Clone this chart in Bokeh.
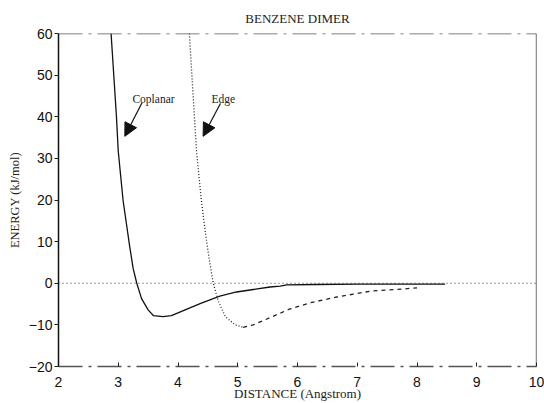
from bokeh.plotting import figure
from bokeh.models import Span, Label, Arrow, NormalHead, FixedTicker
from bokeh.embed import file_html
from bokeh.resources import INLINE

# Coplanar dimer energy curve (distance in Angstrom, energy in kJ/mol)
coplanar_x = [2.88, 2.97, 3.00, 3.08, 3.14, 3.19, 3.25, 3.31, 3.39, 3.50, 3.59, 3.75,
              3.89, 4.15, 4.37, 4.70, 4.98, 5.26, 5.54, 5.71, 5.82, 6.32, 7.00, 8.00, 8.47]
coplanar_y = [60.0, 40.0, 31.7, 20.0, 14.0, 9.0, 3.5, 0.0, -3.7, -6.4, -7.8, -8.0,
              -7.8, -6.2, -4.9, -3.1, -2.1, -1.5, -0.9, -0.7, -0.4, -0.3, -0.2, -0.2, -0.2]

# Edge (T-shaped) dimer energy curve
edge_x = [4.19, 4.31, 4.39, 4.46, 4.52, 4.59, 4.67, 4.79, 4.96, 5.09,
          5.26, 5.71, 5.85, 6.21, 6.66, 7.22, 7.66, 8.00]
edge_y = [60.0, 31.7, 20.0, 12.0, 6.0, 0.0, -4.1, -8.0, -10.0, -10.6,
          -10.0, -7.2, -6.3, -4.7, -3.3, -1.9, -1.5, -1.1]

x_ticks = [2, 3, 4, 5, 6, 7, 8, 9, 10]
y_ticks = [-20, -10, 0, 10, 20, 30, 40, 50, 60]

# annotation labels and arrows
label_text = ["Coplanar", "Edge"]
label_x = [3.59, 4.76]
label_y = [44.2, 44.2]
arrow_x_start = [3.40, 4.71]
arrow_y_start = [43.4, 43.2]
arrow_x_end = [3.11, 4.42]
arrow_y_end = [35.3, 35.3]

title_text = "BENZENE DIMER"
x_label_text = "DISTANCE (Angstrom)"
y_label_text = "ENERGY (kJ/mol)"

p = figure(width=544, height=403, x_range=(2, 10), y_range=(-20, 60),
           output_backend="svg", toolbar_location=None,
           min_border_left=58, min_border_right=8, min_border_top=33, min_border_bottom=35)
p.outline_line_color = None
p.grid.visible = False
p.background_fill_color = "white"

p.title.text = title_text
p.title.align = "center"
p.title.text_font = "Liberation Serif"
p.title.text_font_style = "normal"
p.title.text_font_size = "13px"
p.title.text_color = "#222222"
p.title.standoff = 16

# axes
p.xaxis.ticker = FixedTicker(ticks=x_ticks)
p.yaxis.ticker = FixedTicker(ticks=y_ticks)
for ax in (p.xaxis[0], p.yaxis[0]):
    ax.major_label_text_font = "Liberation Sans"
    ax.major_label_text_font_size = "14px"
    ax.major_label_text_color = "#111111"
    ax.minor_tick_line_color = None
    ax.major_tick_line_color = "#222222"
    ax.major_tick_line_width = 1
    ax.axis_label_text_font = "Liberation Serif"
    ax.axis_label_text_font_style = "normal"
    ax.axis_label_text_color = "#222222"

p.xaxis.major_tick_in = 4
p.xaxis.major_tick_out = 0
p.xaxis.major_label_standoff = 10
p.xaxis.axis_line_color = "#555555"
p.xaxis.axis_line_width = 1.5
p.xaxis.axis_line_dash = "24 6 3 6"
p.xaxis.axis_label = x_label_text
p.xaxis.axis_label_text_font_size = "13px"
p.xaxis.axis_label_standoff = -4

p.yaxis.major_tick_in = 0
p.yaxis.major_tick_out = 4
p.yaxis.major_label_standoff = 2
p.yaxis.axis_line_color = "#111111"
p.yaxis.axis_line_width = 1.5
p.yaxis.axis_label = y_label_text
p.yaxis.axis_label_text_font_size = "12.5px"
p.yaxis.axis_label_standoff = 4

# frame: top dashed border, right solid border, zero dotted line
p.add_layout(Span(location=60, dimension="width", line_color="#555555",
                  line_width=1.5, line_dash="24 6 3 6"))
p.add_layout(Span(location=10, dimension="height", line_color="#222222", line_width=1.3))
p.add_layout(Span(location=0, dimension="width", line_color="#333333",
                  line_width=1, line_dash="1 3"))

# curves
p.line(coplanar_x, coplanar_y, line_color="#111111", line_width=1.3)
imin = edge_y.index(min(edge_y))
p.line(edge_x[:imin + 1], edge_y[:imin + 1], line_color="#222222", line_width=1.3,
       line_dash="1 2")
p.line(edge_x[imin:], edge_y[imin:], line_color="#222222", line_width=1.3,
       line_dash="4 4")

# annotation labels and arrows
for t, lx, ly in zip(label_text, label_x, label_y):
    p.add_layout(Label(x=lx, y=ly, text=t, text_align="center", text_baseline="middle",
                       text_font="Liberation Serif", text_font_size="11.5px",
                       text_color="#222222"))
for xs, ys, xe, ye in zip(arrow_x_start, arrow_y_start, arrow_x_end, arrow_y_end):
    p.add_layout(Arrow(x_start=xs, y_start=ys, x_end=xe, y_end=ye,
                       line_color="#111111", line_width=1.2,
                       end=NormalHead(size=13, fill_color="#111111",
                                      line_color="#111111", line_width=1)))

open("out.html", "w").write(file_html(p, INLINE))
